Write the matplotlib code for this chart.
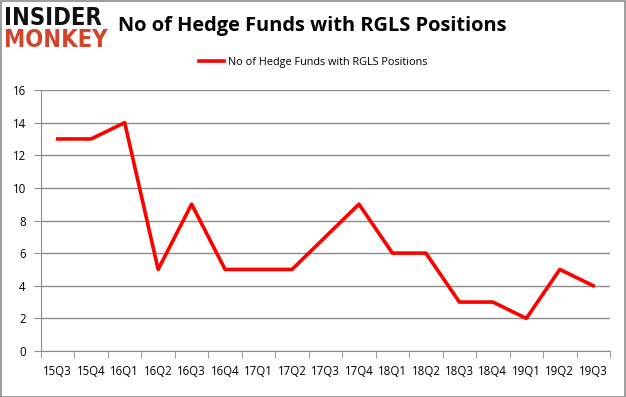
import matplotlib
matplotlib.use("Agg")
import matplotlib.pyplot as plt
from matplotlib.patches import Rectangle

quarters = ["15Q3", "15Q4", "16Q1", "16Q2", "16Q3", "16Q4", "17Q1", "17Q2", "17Q3",
            "17Q4", "18Q1", "18Q2", "18Q3", "18Q4", "19Q1", "19Q2", "19Q3"]
funds = [13, 13, 14, 5, 9, 5, 5, 5, 7, 9, 6, 6, 3, 3, 2, 5, 4]
yticks = [0, 2, 4, 6, 8, 10, 12, 14, 16]

W, H = 626, 397
fig = plt.figure(figsize=(W / 100, H / 100), dpi=100)
fig.patch.set_facecolor("white")

# figure border
fig.add_artist(Rectangle((0.5 / W, 0.5 / H), 1 - 1.5 / W, 1 - 1.5 / H, transform=fig.transFigure,
                         fill=False, edgecolor="#8c8c8c", linewidth=1.2))

left, right, top, bottom = 41, 610, 90, 351
ax = fig.add_axes([left / W, 1 - bottom / H, (right - left) / W, (bottom - top) / H])
x = list(range(len(quarters)))
line, = ax.plot(x, funds, color="#ff0000", linewidth=2.6, solid_joinstyle="round")
ax.set_xlim(-0.5, len(quarters) - 0.5)
ax.set_ylim(0, 16)
ax.set_yticks(yticks)
ax.set_yticklabels([str(v) for v in yticks])
ax.set_xticks(x)
ax.set_xticklabels(quarters)
ax.set_xticks([i - 0.5 for i in range(len(quarters) + 1)], minor=True)
ax.grid(axis="y", color="#8c8c8c", linewidth=1.0)
ax.set_axisbelow(True)
for s in ["top", "right"]:
    ax.spines[s].set_visible(False)
for s in ["left", "bottom"]:
    ax.spines[s].set_color("#8c8c8c")
ax.tick_params(axis="x", which="major", length=0, pad=10, labelsize=8.3)
ax.tick_params(axis="x", which="minor", length=5, color="#8c8c8c")
ax.tick_params(axis="y", length=5, color="#8c8c8c", labelsize=8.3, pad=6)
for lbl in ax.get_xticklabels() + ax.get_yticklabels():
    lbl.set_fontfamily("Open Sans")

ax.legend([line], ["No of Hedge Funds with RGLS Positions"], loc="center",
          bbox_to_anchor=((313) / W, 1 - 62 / H), bbox_transform=fig.transFigure,
          frameon=False, prop={"family": "Open Sans", "size": 7.8},
          handlelength=2.3, handletextpad=0.4)

fig.text(118 / W, 1 - 26 / H, "No of Hedge Funds with RGLS Positions", fontsize=14.4,
         fontweight="bold", family="Open Sans", va="center", ha="left", color="black")

fig.text(4 / W, 1 - 18 / H, "INSIDER", fontsize=17, fontweight="heavy", family="DejaVu Sans",
         va="center", ha="left", color="#111111", stretch="condensed")
fig.text(4 / W, 1 - 40 / H, "MONKEY", fontsize=17, fontweight="heavy", family="DejaVu Sans",
         va="center", ha="left", color="#d4432b", stretch="condensed")

fig.savefig("out.png", dpi=100)
